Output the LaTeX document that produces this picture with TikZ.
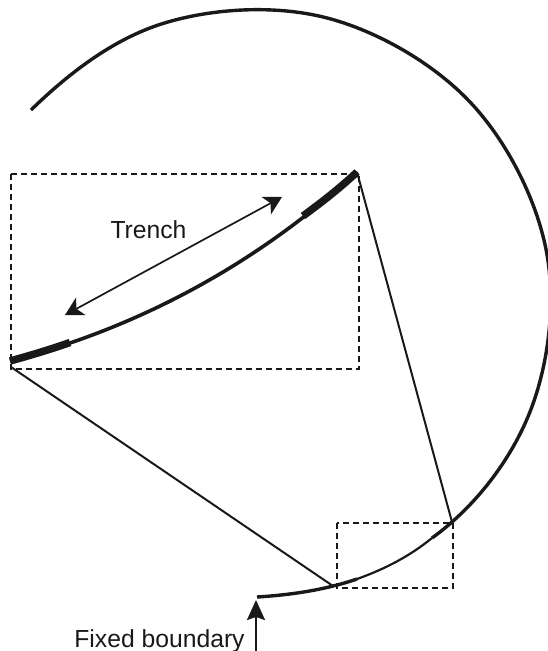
\documentclass[tikz,border=0pt]{standalone}
\usepackage{fontspec}
\setmainfont{Liberation Sans}
\usetikzlibrary{arrows.meta}
\tikzset{
  dashbox/.style={draw=black!90,line width=2.2pt,dash pattern=on 6pt off 4pt},
  radial/.style={draw=black!90,line width=2pt},
  rim/.style={draw=black!90,line width=3.4pt},
  rimthin/.style={draw=black!90,line width=2.2pt},
  trenchline/.style={draw=black!90,line width=3.6pt},
  trenchend/.style={draw=black!90,line width=7.5pt},
  dim/.style={draw=black!90,line width=1.7pt,{Stealth[length=18pt,width=20pt,inset=5pt]}-{Stealth[length=18pt,width=20pt,inset=5pt]}},
  bndarrow/.style={draw=black!90,line width=2pt,-{Stealth[length=20pt,width=18pt,inset=3pt]}},
  lbl/.style={inner sep=0pt,text=black!90,font=\fontsize{24.7pt}{28pt}\selectfont}
}
\begin{document}
\begin{tikzpicture}[x=1pt,y=-1pt]
\useasboundingbox (0,0) rectangle (547,651);
\coordinate (tl) at (10,361);
\coordinate (tlb) at (11,367);
\coordinate (tr) at (357,172);
\coordinate (rimA) at (452,522);
\coordinate (rimB) at (333,586);
\coordinate (dimA) at (282,197);
\coordinate (dimB) at (65,315);
\coordinate (bndFoot) at (256,651);
\coordinate (bndTip) at (256,600);
% dashed boxes
\draw[dashbox] (11,174) rectangle (359,369);
\draw[dashbox] (337,523) rectangle (453,588);
% radial lines
\draw[radial] (tr) -- (rimA);
\draw[radial] (tlb) -- (rimB);
% outer boundary
\draw[rim] (31,110) .. controls (69,73) and (113.4,39) .. (162.6,23.6)
  .. controls (211.8,8.2) and (274.8,4.6) .. (326,17.7)
  .. controls (377.2,30.8) and (433.3,63.2) .. (470,102)
  .. controls (506.7,140.8) and (536.2,198.6) .. (546.2,250.3)
  .. controls (556.2,302) and (548.8,364.4) .. (529.8,412.3)
  .. controls (510.8,460.2) and (475,507) .. (432,538);
\draw[rimthin] (432,538) .. controls (410,556) and (385,569) .. (357,579);
\draw[rim] (357,579) .. controls (325,590) and (290,595) .. (257,597);
% trench
\draw[trenchline] (tl) .. controls (130,330) and (250,270) .. (tr);
\draw[trenchend] (10,361) .. controls (30,355.5) and (50,349.5) .. (70,342.5);
\draw[trenchend] (303,216) .. controls (322,202) and (340,188) .. (357,172);
% dimension arrow
\draw[dim] (dimB) -- (dimA);
\node[lbl] (trench) at (148.5,230) {Trench};
% fixed boundary
\draw[bndarrow] (bndFoot) -- (bndTip);
\node[lbl,anchor=base] (fixed) at (159.5,647) {Fixed boundary};
\end{tikzpicture}
\end{document}
